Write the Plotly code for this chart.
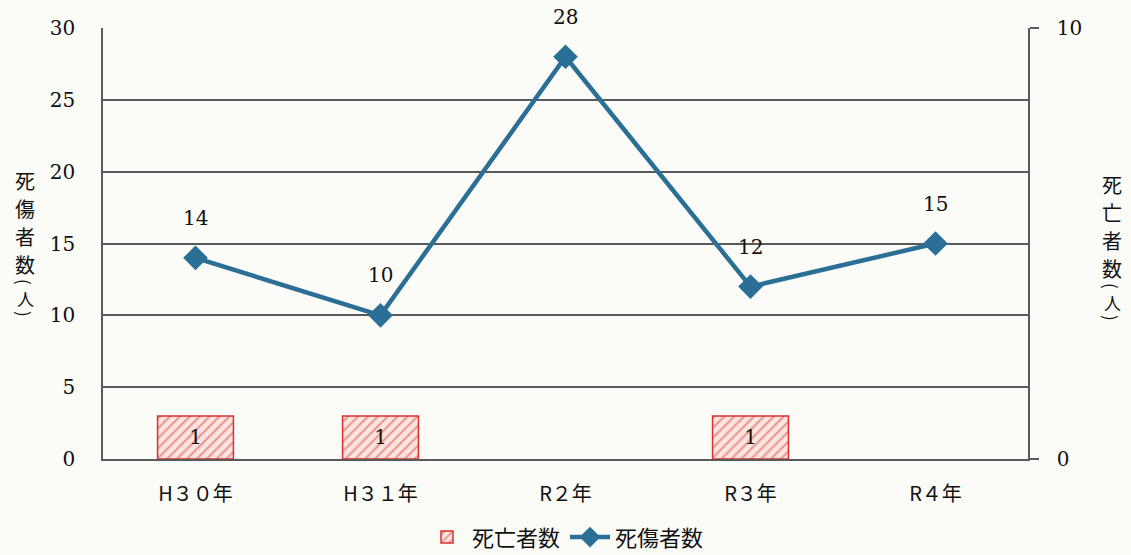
import plotly.graph_objects as go

# Yearly figures
years = ["H３０年", "H３１年", "R２年", "R３年", "R４年"]
casualties = [14, 10, 28, 12, 15]          # 死傷者数 (left axis)
deaths = [1, 1, None, 1, None]             # 死亡者数 (right axis)

left_ticks = [0, 5, 10, 15, 20, 25, 30]
right_ticks = [0, 10]

left_title = ["死", "傷", "者", "数", "(", "人", ")"]
right_title = ["死", "亡", "者", "数", "(", "人", ")"]

NUM_FONT = "DejaVu Serif"
JP_FONT = "Noto Sans CJK JP"
LINE_BLUE = "#2b6f96"
GRID = "#5a5a5a"

W, H = 1131, 555
M_L, M_R, M_T, M_B = 103, 103, 28, 96
PLOT_H = H - M_T - M_B
PLOT_W = W - M_L - M_R

fig = go.Figure()

fig.add_trace(go.Bar(
    x=years, y=deaths, name="死亡者数", yaxis="y2",
    width=0.41,
    marker=dict(
        color="#fde4e0",
        line=dict(color="#d8322e", width=1.5),
        pattern=dict(shape="/", fgcolor="#d8463f", bgcolor="#fde4e0",
                     size=7, solidity=0.3),
    ),
    text=[str(v) if v is not None else "" for v in deaths],
    textposition="inside", insidetextanchor="middle",
    textfont=dict(family=NUM_FONT, size=20, color="#111"),
    textangle=0,
))

fig.add_trace(go.Scatter(
    x=years, y=casualties, name="死傷者数", mode="lines+markers",
    line=dict(color=LINE_BLUE, width=4.5),
    marker=dict(symbol="diamond", size=19, color=LINE_BLUE),
))

# value labels above the line points
for yr, v in zip(years, casualties):
    fig.add_annotation(x=yr, y=v, text=str(v), showarrow=False,
                       yshift=40, font=dict(family=NUM_FONT, size=20, color="#111"))


def vertical_title(chars, x_px, y_px_list):
    """Stack characters vertically; parentheses are turned to their vertical form."""
    for i, (ch, ypx) in enumerate(zip(chars, y_px_list)):
        is_paren = ch in "()"
        size = 17 if i >= 4 else 20
        fig.add_annotation(
            xref="paper", yref="paper",
            x=(x_px - M_L) / PLOT_W, y=(H - M_B - ypx) / PLOT_H,
            xanchor="center", yanchor="middle",
            text=ch, showarrow=False, textangle=90 if is_paren else 0,
            font=dict(family=JP_FONT, size=size, color="#111"),
            borderpad=0,
        )


vertical_title(left_title, 25, [180, 208, 236, 264, 282, 298, 314])
vertical_title(right_title, 1112, [184, 212, 240, 268, 286, 302, 318])

fig.update_layout(
    width=W, height=H,
    margin=dict(l=M_L, r=M_R, t=M_T, b=M_B, autoexpand=False),
    paper_bgcolor="#fbfbf8", plot_bgcolor="#fbfbf8",
    showlegend=True,
    legend=dict(orientation="h", x=0.5, xanchor="center",
                yref="container", y=0.032, yanchor="middle",
                font=dict(family=JP_FONT, size=22, color="#111"),
                itemwidth=40, tracegroupgap=0),
    xaxis=dict(
        type="category", showgrid=False, showline=True, linecolor=GRID, linewidth=1.5,
        ticks="", tickfont=dict(family=JP_FONT, size=20, color="#111"),
        ticklabelstandoff=16,
    ),
    yaxis=dict(
        range=[0, 30], tickvals=left_ticks, showgrid=True, gridcolor=GRID, gridwidth=1.5,
        showline=True, linecolor=GRID, linewidth=1.5, zeroline=False,
        tickfont=dict(family=NUM_FONT, size=20, color="#111"),
        ticklabelstandoff=22,
    ),
    yaxis2=dict(
        range=[0, 10], tickvals=right_ticks, overlaying="y", side="right",
        showgrid=False, showline=True, linecolor=GRID, linewidth=1.5, zeroline=False,
        ticks="outside", ticklen=9, tickcolor=GRID, tickwidth=1.5,
        tickfont=dict(family=NUM_FONT, size=20, color="#111"),
        ticklabelstandoff=14,
    ),
)

fig.write_html("out.html")
